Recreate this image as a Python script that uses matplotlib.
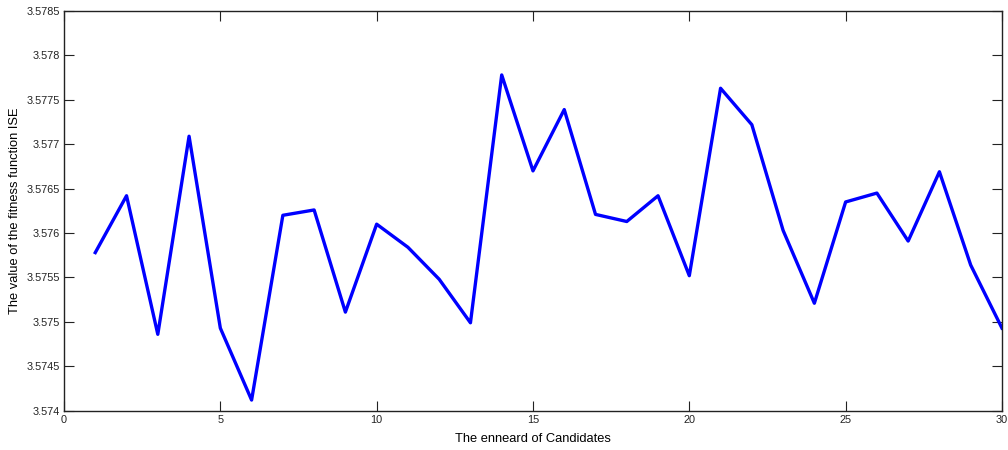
import matplotlib
matplotlib.use("Agg")
import matplotlib.pyplot as plt

candidates = list(range(1, 31))
ise_values = [
    3.57578, 3.57642, 3.57486, 3.57709, 3.57493, 3.57412, 3.57620, 3.57626,
    3.57511, 3.57610, 3.57584, 3.57548, 3.57499, 3.57778, 3.57670, 3.57739,
    3.57621, 3.57613, 3.57642, 3.57552, 3.57763, 3.57722, 3.57603, 3.57521,
    3.57635, 3.57645, 3.57591, 3.57669, 3.57564, 3.57493,
]
x_ticks = [0, 5, 10, 15, 20, 25, 30]
y_ticks = [3.574, 3.5745, 3.575, 3.5755, 3.576, 3.5765, 3.577, 3.5775, 3.578, 3.5785]
y_tick_labels = ["3.574", "3.5745", "3.575", "3.5755", "3.576", "3.5765",
                 "3.577", "3.5775", "3.578", "3.5785"]

plt.rcParams["font.family"] = ["Liberation Sans", "DejaVu Sans"]

fig = plt.figure(figsize=(10.08, 4.5), dpi=100)
ax = fig.add_axes([0.0635, 0.0873, 0.9305, 0.8883])

ax.plot(candidates, ise_values, color=(0, 0, 1), linewidth=2.4)

ax.set_xlim(0, 30)
ax.set_ylim(3.574, 3.5785)
ax.set_xticks(x_ticks)
ax.set_xticklabels([str(t) for t in x_ticks])
ax.set_yticks(y_ticks)
ax.set_yticklabels(y_tick_labels)

ax.tick_params(direction="in", length=7, width=0.8, top=True, right=True,
               labelsize=7.8, colors="#222222", pad=3)
for s in ax.spines.values():
    s.set_linewidth(1.0)
    s.set_color("#222222")

ax.set_xlabel("The enneard of Candidates", fontsize=9.3, labelpad=6)
ax.set_ylabel("The value of the fitness function ISE", fontsize=9.3, labelpad=4)

fig.savefig("out.png", dpi=100)
